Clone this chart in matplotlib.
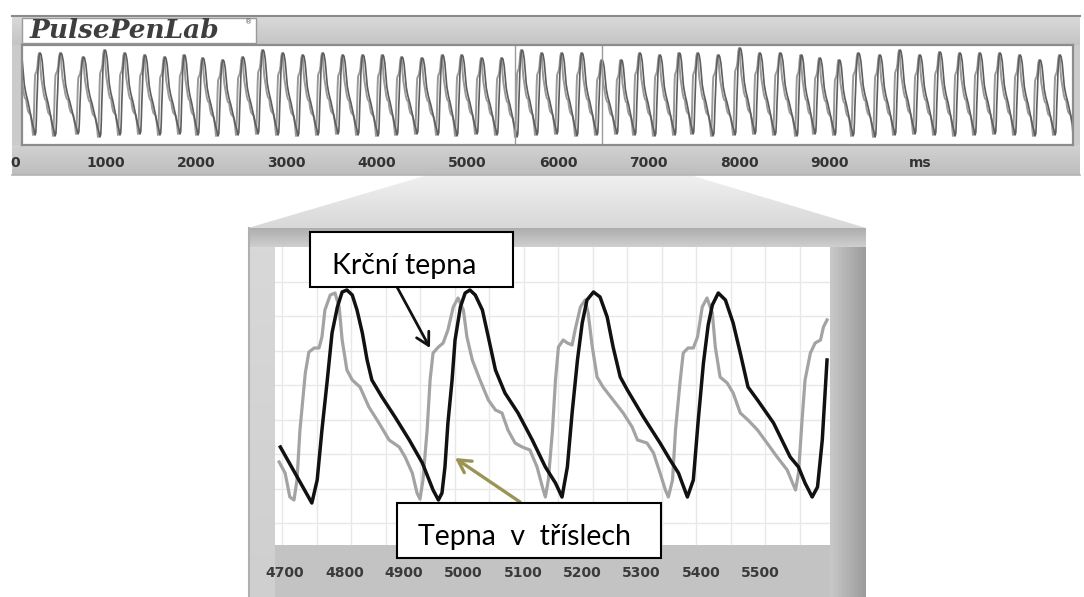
import matplotlib
matplotlib.use("Agg")
import matplotlib.pyplot as plt
import numpy as np
from matplotlib.colors import LinearSegmentedColormap
from matplotlib.patches import Rectangle, Polygon

W, H = 1084, 597

# ---------------- overview strip (PulsePenLab) ----------------
strip_ticks = [0, 1000, 2000, 3000, 4000, 5000, 6000, 7000, 8000, 9000, 10000]
strip_tick_labels = ["0", "1000", "2000", "3000", "4000", "5000", "6000",
                     "7000", "8000", "9000", "ms"]

# beat boundaries (troughs) in ms
beat_troughs_ms = [0, 221, 442, 696, 939, 1160, 1381, 1602, 1823, 2022,
                   2243, 2464, 2685, 2906, 3127, 3348, 3569, 3790, 4011, 4221,
                   4442, 4674, 4884, 5105, 5326, 5547, 5768, 5989, 6210, 6431,
                   6652, 6851, 7072, 7293, 7492, 7713, 7956, 8177, 8398, 8641,
                   8840, 9061, 9260, 9503, 9724, 9945, 10166, 10387, 10608, 10829,
                   11050, 11271, 11492, 11713]
trough_level = [11, 10, 9, 11, 8, 10, 11, 10, 11, 10,
                9, 10, 11, 10, 9, 10, 11, 10, 9, 10,
                11, 10, 9, 11, 10, 8, 10, 11, 9, 10,
                11, 10, 9, 10, 11, 9, 10, 11, 10, 9,
                11, 10, 9, 8, 10, 11, 10, 9, 10, 11,
                10, 9, 10, 11]
peak_level = [93,
              92, 92, 88, 95, 92, 90, 88, 90, 87, 85, 88, 95, 92, 90, 92, 90, 90, 90,
              88, 87, 90, 90, 87, 87, 95, 92, 92, 92, 85, 85, 92, 90, 92, 92, 90, 97, 92, 92,
              90, 87, 85, 92, 90, 95, 90, 93, 92, 92, 92, 90, 85, 90]
zoom_marks_ms = [5525, 6486]

# one-beat shapes (fraction of beat, fraction of pulse height)
carotid_phase = [0, 0.04, 0.064, 0.088, 0.12, 0.144, 0.184, 0.224, 0.264, 0.304,
                 0.36, 0.408, 0.464, 0.544, 0.648, 0.76, 0.864, 0.944, 1.0]
carotid_level = [0, 0.03, 0.16, 0.37, 0.57, 0.76, 0.92, 0.99, 1.0, 0.98,
                 0.9, 0.77, 0.61, 0.5, 0.4, 0.27, 0.14, 0.07, 0]
femoral_phase = [0, 0.024, 0.056, 0.08, 0.104, 0.144, 0.184, 0.224, 0.264, 0.304,
                 0.344, 0.376, 0.416, 0.48, 0.544, 0.6, 0.656, 0.704, 0.76, 0.816,
                 0.88, 0.936, 0.976, 1.0]
femoral_level = [0, 0.09, 0.34, 0.59, 0.73, 0.76, 0.78, 0.84, 0.96, 1.0,
                 0.94, 0.81, 0.69, 0.59, 0.49, 0.44, 0.43, 0.34, 0.28, 0.26,
                 0.24, 0.16, 0.06, 0.01]
femoral_lead_ms = 22

# ---------------- zoomed panel ----------------
zoom_ticks = [4700, 4800, 4900, 5000, 5100, 5200, 5300, 5400, 5500]
black_ms = [4692, 4745, 4754, 4762, 4771, 4779, 4788, 4796, 4804, 4813,
            4821, 4830, 4838, 4846, 4863, 4885, 4909, 4931, 4949, 4958,
            4964, 4969, 4974, 4981, 4986, 4995, 5003, 5011, 5020, 5032,
            5042, 5054, 5070, 5092, 5116, 5138, 5155, 5166, 5175, 5183,
            5192, 5200, 5208, 5219, 5230, 5242, 5252, 5264, 5276, 5303,
            5331, 5348, 5362, 5377, 5387, 5395, 5404, 5412, 5419, 5429,
            5441, 5454, 5466, 5479, 5495, 5522, 5550, 5564, 5575, 5587,
            5596, 5604, 5612]
black_amp = [98, 42, 65, 115, 165, 212, 238, 253, 255, 250,
             235, 212, 185, 165, 148, 128, 105, 82, 55, 45,
             52, 78, 122, 165, 205, 238, 252, 255, 250, 235,
             208, 175, 152, 132, 105, 78, 62, 48, 78, 132,
             185, 222, 245, 253, 248, 228, 198, 168, 155, 128,
             102, 85, 72, 48, 65, 123, 182, 220, 240, 252,
             245, 222, 192, 158, 145, 122, 88, 78, 62, 48,
             58, 105, 185]
grey_ms = [4690, 4700, 4708, 4715, 4720, 4725, 4734, 4740, 4749, 4757,
           4762, 4767, 4776, 4784, 4791, 4796, 4804, 4813, 4826, 4841,
           4858, 4875, 4892, 4902, 4914, 4922, 4927, 4932, 4939, 4944,
           4949, 4958, 4966, 4974, 4983, 4991, 5000, 5006, 5015, 5028,
           5042, 5054, 5065, 5075, 5087, 5099, 5112, 5124, 5133, 5138,
           5143, 5150, 5155, 5160, 5168, 5175, 5183, 5188, 5197, 5205,
           5210, 5217, 5225, 5235, 5252, 5269, 5284, 5293, 5309, 5320,
           5331, 5340, 5345, 5352, 5357, 5365, 5370, 5378, 5387, 5394,
           5402, 5410, 5419, 5424, 5432, 5444, 5454, 5466, 5479, 5495,
           5511, 5528, 5545, 5554, 5559, 5564, 5570, 5575, 5584, 5592,
           5601, 5606, 5612]
grey_amp = [83, 72, 48, 45, 65, 115, 172, 193, 197, 197,
            208, 235, 250, 252, 238, 205, 175, 165, 158, 138,
            122, 105, 98, 88, 72, 52, 46, 65, 115, 165,
            192, 198, 202, 215, 238, 247, 235, 208, 185, 165,
            145, 135, 132, 115, 102, 98, 95, 78, 58, 48,
            65, 115, 165, 198, 205, 202, 200, 215, 238, 245,
            232, 198, 168, 158, 145, 132, 118, 105, 102, 92,
            72, 55, 48, 65, 115, 165, 192, 197, 197, 208,
            238, 247, 232, 198, 168, 162, 152, 132, 125, 115,
            102, 88, 75, 62, 55, 72, 125, 165, 192, 202,
            205, 218, 225]

label_top = "Krční tepna"
label_bottom = "Tepna  v  tříslech"

TICK_FONT = dict(family="DejaVu Sans", weight="bold")


def build_trace(phase, level, shift=0):
    xs, ys = [], []
    for k in range(len(peak_level)):
        t0, t1 = beat_troughs_ms[k], beat_troughs_ms[k + 1]
        b0, b1 = trough_level[k], trough_level[k + 1]
        for p, l in zip(phase, level):
            base = b0 + p * (b1 - b0)
            xs.append(t0 + p * (t1 - t0) - shift)
            ys.append(base + l * (peak_level[k] - base))
    return xs, ys


def shade(ax, x0, y0, x1, y1, c0, c1, vertical=True, clip=None, z=1):
    cmap = LinearSegmentedColormap.from_list("g", [c0, c1])
    g = np.linspace(0, 1, 64)
    g = g[:, None] if vertical else g[None, :]
    im = ax.imshow(g, cmap=cmap, extent=(x0, x1, y1, y0), aspect="auto",
                   interpolation="bilinear", zorder=z)
    if clip is not None:
        im.set_clip_path(clip)
    return im


def px_rect(x0, y0, x1, y1):
    return [x0 / W, 1 - y1 / H, (x1 - x0) / W, (y1 - y0) / H]


fig = plt.figure(figsize=(W / 100, H / 100), dpi=100, facecolor="white")

# background drawing layer in pixel coordinates
bg = fig.add_axes([0, 0, 1, 1])
bg.set_autoscale_on(False)
bg.set_xlim(0, W)
bg.set_ylim(H, 0)
bg.axis("off")

# strip frame
bg.add_patch(Rectangle((12, 15), 1068, 160, facecolor="#cbcbcb", edgecolor="none", zorder=0))
shade(bg, 12, 16, 1080, 45, "#dadada", "#c4c4c4")
shade(bg, 12, 145, 1080, 175, "#d2d2d2", "#bdbdbd")
bg.plot([12, 1080], [15.5, 15.5], color="#8a8a8a", lw=1.5, zorder=2)
bg.plot([12, 1080], [175, 175], color="#b3b3b3", lw=1.2, zorder=2)
bg.add_patch(Rectangle((22, 18), 234, 25, facecolor="white", edgecolor="#9a9a9a", lw=1, zorder=3))
bg.text(30, 31, "PulsePenLab", family="DejaVu Serif", style="italic", weight="bold",
        fontsize=19, color="#3e3e3e", va="center", ha="left", zorder=4)
bg.text(249, 22, "®", fontsize=5, color="#555555", va="center", ha="center", zorder=4)

# zoom trapezoid
trap = Polygon([(428, 175), (690, 175), (866, 228), (248, 228)], closed=True,
               facecolor="none", edgecolor="none")
bg.add_patch(trap)
shade(bg, 248, 175, 866, 228, "#f0f0f0", "#d8d8d8", clip=trap, z=0.5)

# lower frame
bg.add_patch(Rectangle((248, 228), 618, 369, facecolor="#c3c3c3", edgecolor="none", zorder=1))
shade(bg, 248, 228, 866, 247, "#adadad", "#cfcfcf", z=1.2)
shade(bg, 248, 247, 275, 597, "#d8d8d8", "#cfcfcf", z=1.2)
shade(bg, 830, 247, 866, 597, "#c8c8c8", "#9c9c9c", vertical=False, z=1.2)
bg.plot([248.5, 248.5], [228, 597], color="#b0b0b0", lw=1.5, zorder=1.3)

# overview strip trace
ax_top = fig.add_axes(px_rect(22, 45, 1073, 145))
ax_top.set_facecolor("white")
fx, fy = build_trace(femoral_phase, femoral_level, femoral_lead_ms)
cx, cy = build_trace(carotid_phase, carotid_level)
ax_top.plot(fx, fy, color="#9a9a9a", lw=1.4)
ax_top.plot(cx, cy, color="#5e5e5e", lw=1.2)
for m in zoom_marks_ms:
    ax_top.axvline(m, color="#9c9c9c", lw=1.0)
ax_top.set_xlim((22 - 15) * 11.05, (1073 - 15) * 11.05)
ax_top.set_ylim(0, 100)
ax_top.set_xticks([])
ax_top.set_yticks([])
for s in ax_top.spines.values():
    s.set_color("#8c8c8c")
    s.set_linewidth(1.6)

# strip tick labels
ax_band = fig.add_axes(px_rect(12, 155, 1080, 156))
ax_band.set_xlim((12 - 15) * 11.05, (1080 - 15) * 11.05)
ax_band.set_frame_on(False)
ax_band.patch.set_visible(False)
ax_band.set_yticks([])
ax_band.set_xticks(strip_ticks)
ax_band.set_xticklabels(strip_tick_labels, fontsize=10, color="#333333", **TICK_FONT)
ax_band.tick_params(axis="x", length=0, pad=0)

# zoomed panel
ax_low = fig.add_axes(px_rect(275, 247, 830, 545))
ax_low.set_facecolor("white")
ax_low.set_xlim(4683, 5617)
ax_low.set_ylim(0, 298)
ax_low.set_xticks(np.arange(4695, 5617, 58.1), minor=True)
ax_low.set_yticks(np.arange(22, 298, 34.5), minor=True)
ax_low.set_yticks([])
ax_low.grid(True, which="minor", color="#e8e8e8", lw=1.0)
ax_low.set_axisbelow(True)
ax_low.plot(grey_ms, grey_amp, color="#a3a3a3", lw=2.3, solid_joinstyle="round")
ax_low.plot(black_ms, black_amp, color="#111111", lw=2.5, solid_joinstyle="round")
ax_low.set_xticks(zoom_ticks)
ax_low.set_xticklabels([str(t) for t in zoom_ticks], fontsize=10, color="#3a3a3a", **TICK_FONT)
ax_low.tick_params(axis="both", which="both", length=0)
ax_low.tick_params(axis="x", which="major", pad=15)
for s in ax_low.spines.values():
    s.set_visible(False)

# foreground: callout boxes and arrows
fg = fig.add_axes([0, 0, 1, 1])
fg.set_autoscale_on(False)
fg.set_xlim(0, W)
fg.set_ylim(H, 0)
fg.axis("off")
fg.patch.set_visible(False)

fg.add_patch(Rectangle((310, 232), 203, 55, facecolor="white", edgecolor="black", lw=1.5, zorder=5))
fg.text(332, 274, label_top, family="Lato", fontsize=20.5, color="black",
        ha="left", va="baseline", zorder=6)
fg.add_patch(Rectangle((397, 503), 264, 55, facecolor="white", edgecolor="black", lw=1.5, zorder=5))
fg.text(418, 545, label_bottom, family="Lato", fontsize=20.5, color="black",
        ha="left", va="baseline", zorder=6)

fg.annotate("", xy=(430, 348), xytext=(397, 287), xycoords="data",
            arrowprops=dict(arrowstyle="->,head_length=0.9,head_width=0.5",
                            color="#111111", lw=2.0, shrinkA=0, shrinkB=0), zorder=4)
fg.annotate("", xy=(455, 458), xytext=(520, 502), xycoords="data",
            arrowprops=dict(arrowstyle="->,head_length=0.9,head_width=0.5",
                            color="#9b9455", lw=2.4, shrinkA=0, shrinkB=0), zorder=4)

fig.savefig("out.png", dpi=100, facecolor="white")
